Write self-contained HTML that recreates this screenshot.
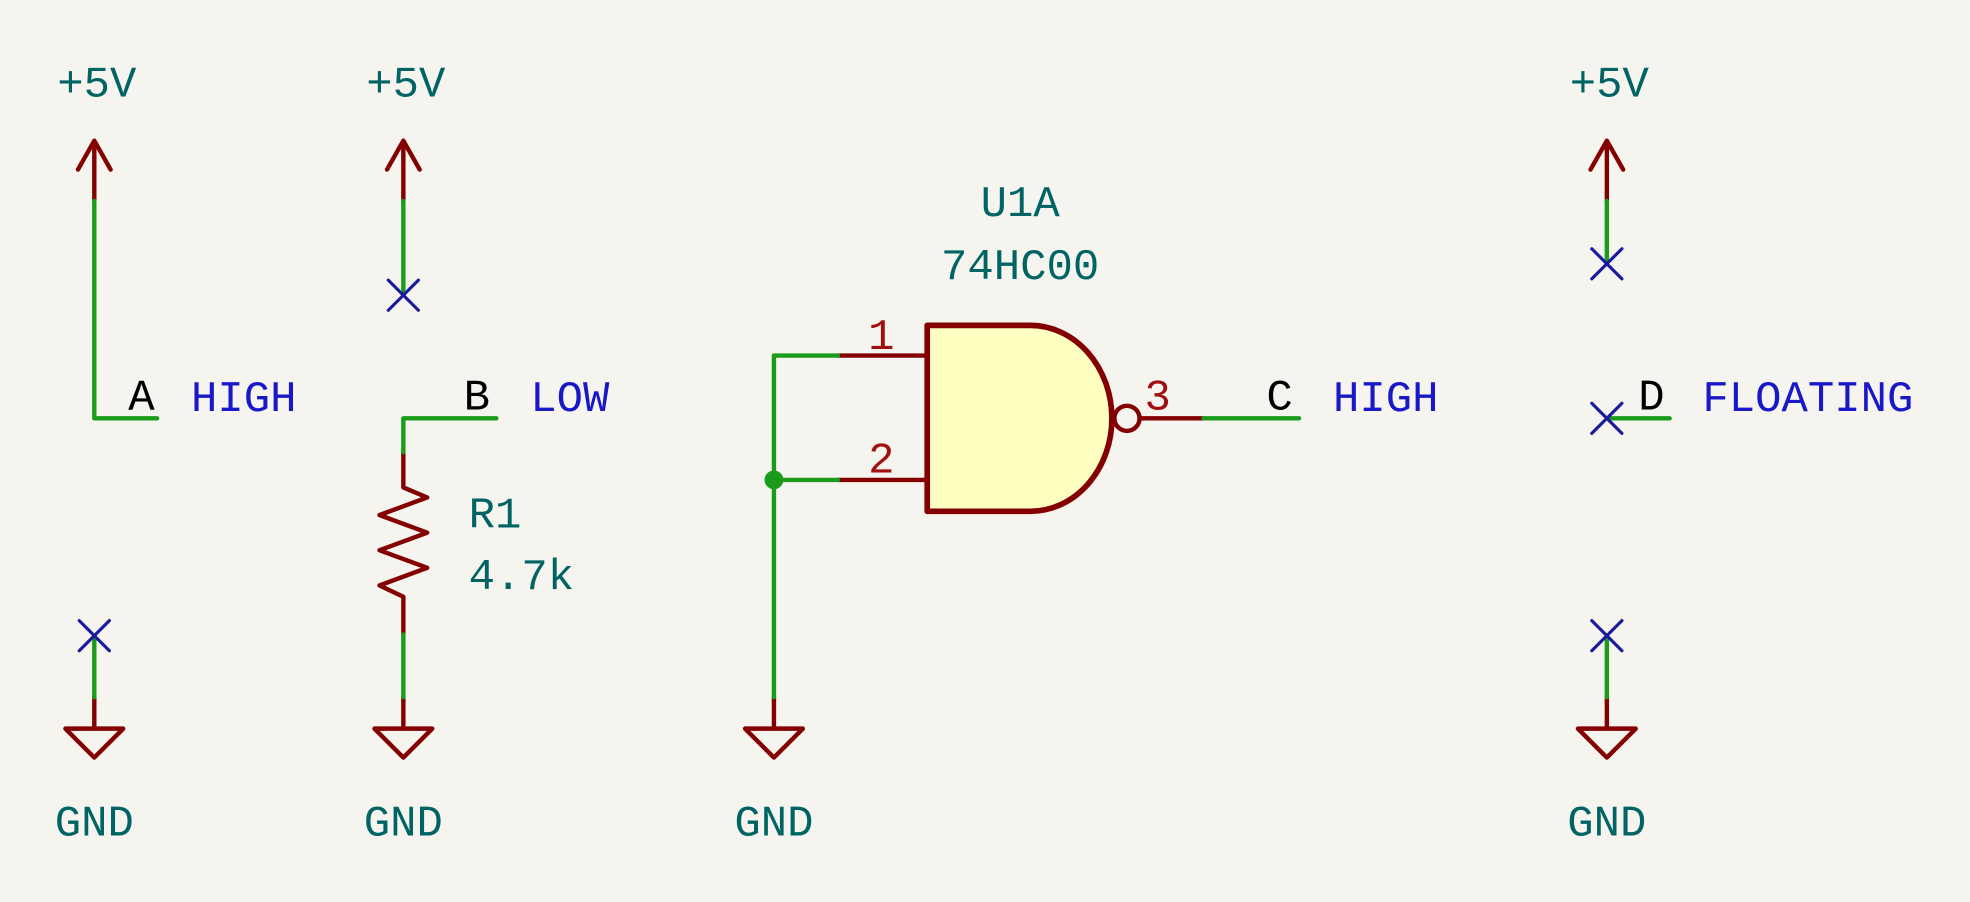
<!DOCTYPE html>
<html><head><meta charset="utf-8"><style>
html,body{margin:0;padding:0;background:#f5f4ef;}
svg{display:block}
text{font-family:"Liberation Mono","DejaVu Sans Mono",monospace;font-size:35px;}
</style></head><body>
<svg width="1970" height="902" viewBox="0 0 1568 718" xmlns="http://www.w3.org/2000/svg">
<rect width="1568" height="718" fill="#f5f4ef"/>
<g fill="none" stroke-width="3.5" stroke-linecap="round" stroke-linejoin="round">
<g stroke="#840000">
<path d="M62,135 L75,112 L88,135 M75,112 V160"/>
<path d="M308,135 L321,112 L334,135 M321,112 V160"/>
<path d="M1266,135 L1279,112 L1292,135 M1279,112 V160"/>
<path d="M75,555 V580 M52,580 H98 L75,603 Z"/>
<path d="M321,555 V580 M298,580 H344 L321,603 Z"/>
<path d="M616,555 V580 M593,580 H639 L616,603 Z"/>
<path d="M1279,555 V580 M1256,580 H1302 L1279,603 Z"/>
<path d="M321,360 V388 L340,396 L302,410 L340,424 L302,438 L340,452 L302,466 L321,475 V505"/>
<path d="M667,283 H738 M667,382 H738 M908,333 H958"/>
<path d="M738,259 H820 A65,74 0 0 1 820,407 H738 Z" fill="#ffffc2" stroke-width="4.5"/>
<circle cx="897" cy="333" r="10"/>
</g>
<g stroke="#1a9c1a">
<path d="M75,160 V333 H125"/>
<path d="M321,160 V235"/>
<path d="M395,333 H321 V360"/>
<path d="M321,505 V555"/>
<path d="M75,506 V555"/>
<path d="M667,283 H616 V555 M616,382 H667"/>
<path d="M958,333 H1034"/>
<path d="M1279,160 V210"/>
<path d="M1279,333 H1329"/>
<path d="M1279,506 V555"/>
</g>
<g stroke="#1a1a9c" stroke-width="2.5">
<path d="M309,223 L333,247 M333,223 L309,247"/>
<path d="M63,494 L87,518 M87,494 L63,518"/>
<path d="M1267,198 L1291,222 M1291,198 L1267,222"/>
<path d="M1267,321 L1291,345 M1291,321 L1267,345"/>
<path d="M1267,494 L1291,518 M1291,494 L1267,518"/>
</g>
</g>
<circle cx="616" cy="382" r="7.5" fill="#1a9c1a"/>
<g fill="#006464" text-anchor="middle">
<text x="77" y="77">+5V</text>
<text x="323" y="77">+5V</text>
<text x="1281" y="77">+5V</text>
<text x="75" y="665">GND</text>
<text x="321" y="665">GND</text>
<text x="616" y="665">GND</text>
<text x="1279" y="665">GND</text>
<text x="812" y="172">U1A</text>
<text x="812" y="222">74HC00</text>
</g>
<g fill="#006464">
<text x="373" y="420">R1</text>
<text x="373" y="469">4.7k</text>
</g>
<g fill="#000">
<text x="102" y="326">A</text>
<text x="369" y="326">B</text>
<text x="1008" y="326">C</text>
<text x="1304" y="326">D</text>
</g>
<g fill="#1818c8">
<text x="152" y="327">HIGH</text>
<text x="422" y="327">LOW</text>
<text x="1061" y="327">HIGH</text>
<text x="1355" y="327">FLOATING</text>
</g>
<g fill="#a01010">
<text x="691" y="278">1</text>
<text x="691" y="376">2</text>
<text x="911" y="326">3</text>
</g>
</svg>
</body></html>
